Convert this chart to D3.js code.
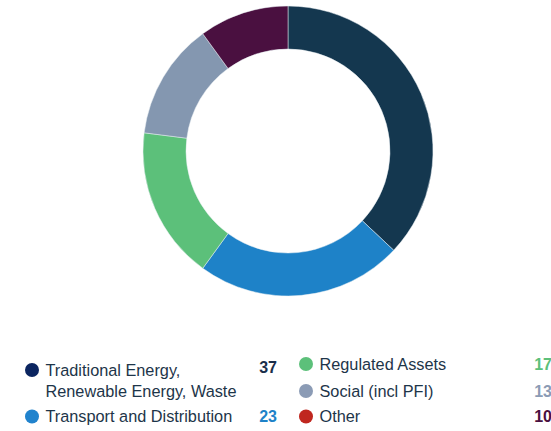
<!DOCTYPE html>
<html>
<head>
<meta charset="utf-8">
<script src="https://cdn.jsdelivr.net/npm/d3@7"></script>
<style>
  body { margin: 0; background: #fff; }
  svg { display: block; font-family: "Liberation Sans", Arial, sans-serif; }
</style>
</head>
<body>
<div id="chart"></div>
<script>
// sectors, clockwise from 12 o'clock
let sectors = ["Traditional Energy, Renewable Energy, Waste", "Transport and Distribution", "Regulated Assets", "Social (incl PFI)", "Other"];
let values = [37, 23, 17, 13, 10];
let sliceColors = ["#14374f", "#1e82c8", "#5cc07a", "#8497b0", "#4a1040"];
let dotColors = ["#0b2560", "#2183cd", "#5cc07a", "#8b9bb5", "#c0271f"];
let numColors = ["#1a2e4a", "#1e82c8", "#5cc07a", "#8b9bb5", "#4a1040"];

let width = 551, height = 431;
let cx = 288, cy = 151;
let outerR = 145, innerR = 102;

let svg = d3.select("#chart").append("svg")
  .attr("width", width)
  .attr("height", height);

//------DONUT-------
let pie = d3.pie().sort(null).value(d => d);
let arc = d3.arc().innerRadius(innerR).outerRadius(outerR);

svg.append("g")
  .attr("transform", "translate(" + cx + "," + cy + ")")
  .selectAll("path")
  .data(pie(values))
  .enter().append("path")
    .attr("d", arc)
    .attr("fill", (d, i) => sliceColors[i])
    .attr("stroke", "#e8eef2")
    .attr("stroke-width", 0.5);

//------LEGEND------
// label lines, column, row
let legendRows = [
  { lines: ["Traditional Energy,", "Renewable Energy, Waste"], col: 0, row: 0 },
  { lines: ["Transport and Distribution"], col: 0, row: 2 },
  { lines: ["Regulated Assets"], col: 1, row: 0 },
  { lines: ["Social (incl PFI)"], col: 1, row: 1 },
  { lines: ["Other"], col: 1, row: 2 }
];
let colX = [32, 306];
let numX = [277, 552];
let rowY = [369.5, 396.5, 422];

legendRows.forEach(function(r, i) {
  let by = rowY[r.row] + (r.col === 0 && r.row === 0 ? 6 : 0);
  let g = svg.append("g");
  g.append("circle")
    .attr("cx", colX[r.col])
    .attr("cy", by - 5.5)
    .attr("r", 7)
    .attr("fill", dotColors[i]);
  r.lines.forEach(function(t, j) {
    g.append("text")
      .attr("x", colX[r.col] + 13.5)
      .attr("y", by + j * 21)
      .attr("font-size", "16.3px")
      .attr("fill", "#1d3549")
      .text(t);
  });
  g.append("text")
    .attr("x", numX[r.col])
    .attr("y", r.col === 0 && r.row === 0 ? by - 2.5 : by)
    .attr("text-anchor", "end")
    .attr("font-size", "16px")
    .attr("font-weight", "bold")
    .attr("fill", numColors[i])
    .text(values[i]);
});
</script>
</body>
</html>
